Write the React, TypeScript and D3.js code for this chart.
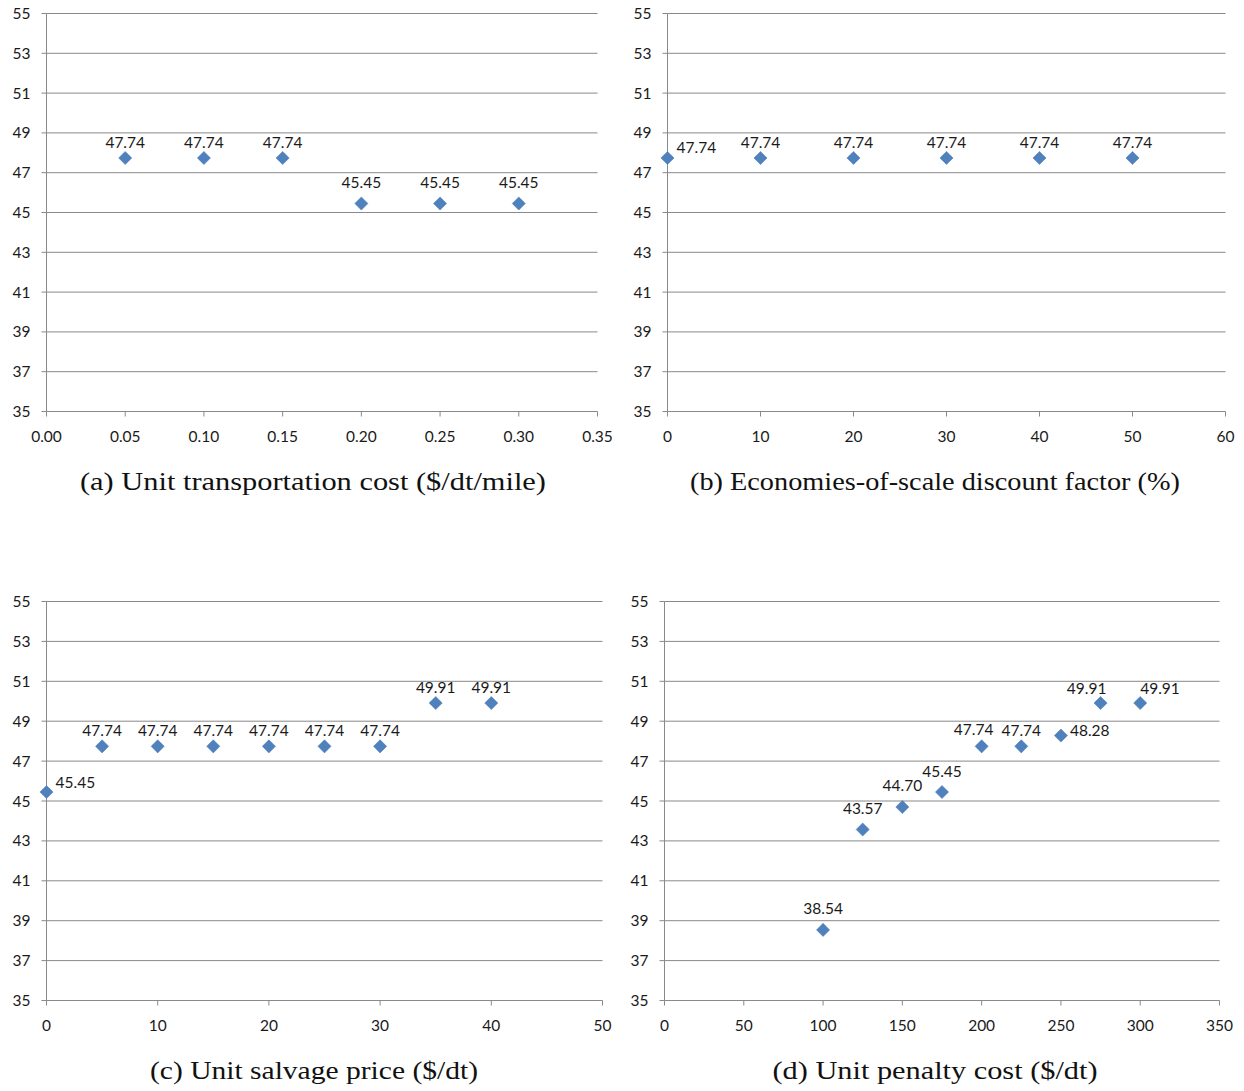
import React from 'react';
import * as d3 from 'd3';

// y axis is shared by all four panels
const yTicks = [35, 37, 39, 41, 43, 45, 47, 49, 51, 53, 55];

// (a) unit transportation cost
const aX = [0.05, 0.1, 0.15, 0.2, 0.25, 0.3];
const aY = [47.74, 47.74, 47.74, 45.45, 45.45, 45.45];
const aTicks = [0, 0.05, 0.1, 0.15, 0.2, 0.25, 0.3, 0.35];

// (b) economies-of-scale discount factor
const bX = [0, 10, 20, 30, 40, 50];
const bY = [47.74, 47.74, 47.74, 47.74, 47.74, 47.74];
const bTicks = [0, 10, 20, 30, 40, 50, 60];

// (c) unit salvage price
const cX = [0, 5, 10, 15, 20, 25, 30, 35, 40];
const cY = [45.45, 47.74, 47.74, 47.74, 47.74, 47.74, 47.74, 49.91, 49.91];
const cTicks = [0, 10, 20, 30, 40, 50];

// (d) unit penalty cost
const dX = [100, 125, 150, 175, 200, 225, 250, 275, 300];
const dY = [38.54, 43.57, 44.7, 45.45, 47.74, 47.74, 48.28, 49.91, 49.91];
const dTicks = [0, 50, 100, 150, 200, 250, 300, 350];

const gridColor = '#898989';
const markColor = '#4f81bd';
const tickFont = 'Lato, "Open Sans", sans-serif';
const capFont = '"Liberation Serif", "DejaVu Serif", serif';

// where the data label sits relative to the diamond
const place = {
  top: { dx: 0, dy: -10, anchor: 'middle' },
  high: { dx: 0, dy: -15.5, anchor: 'middle' },
  topL: { dx: -8, dy: -11, anchor: 'middle' },
  topL2: { dx: -14, dy: -9, anchor: 'middle' },
  right: { dx: 9, dy: -4.5, anchor: 'start' },
  side: { dx: 9, dy: 0, anchor: 'start' },
  corner: { dx: 0, dy: -9, anchor: 'start' }
};

const diamond = d3.symbol().type(d3.symbolSquare).size(86)();

function Panel(props) {
  const { x0, x1, y0, y1, xs, ys, ticks, fmt, labels, caption, capX, capY, capW } = props;
  const x = d3.scaleLinear().domain([ticks[0], ticks[ticks.length - 1]]).range([x0, x1]);
  const y = d3.scaleLinear().domain([35, 55]).range([y1, y0]);

  return (
    <g>
      {/* gridlines + y ticks */}
      {yTicks.map(t => (
        <g key={'y' + t}>
          <line x1={x0} x2={x1} y1={y(t)} y2={y(t)} stroke={gridColor} strokeWidth={1} />
          <line x1={x0 - 5} x2={x0} y1={y(t)} y2={y(t)} stroke={gridColor} strokeWidth={1} />
          <text x={x0 - 16} y={y(t) + 5.5} textAnchor="end" fontFamily={tickFont} fontSize={15.5} fill="#1a1a1a">{t}</text>
        </g>
      ))}
      {/* axes */}
      <line x1={x0} x2={x0} y1={y0} y2={y1} stroke={gridColor} strokeWidth={1} />
      {ticks.map(t => (
        <g key={'x' + t}>
          <line x1={x(t)} x2={x(t)} y1={y1} y2={y1 + 5} stroke={gridColor} strokeWidth={1} />
          <text x={x(t)} y={y1 + 30} textAnchor="middle" fontFamily={tickFont} fontSize={15.5} fill="#1a1a1a">{fmt(t)}</text>
        </g>
      ))}
      {/* points */}
      {xs.map((v, i) => {
        const cx = x(v);
        const cy = y(ys[i]);
        const p = place[labels[i]];
        return (
          <g key={'p' + i}>
            <path d={diamond} transform={`translate(${cx},${cy}) rotate(45)`} fill={markColor} stroke="#4a7ab5" strokeWidth={0.5} />
            <text x={cx + p.dx} y={cy + p.dy} textAnchor={p.anchor} fontFamily={tickFont} fontSize={15.5} fill="#1a1a1a">{ys[i].toFixed(2)}</text>
          </g>
        );
      })}
      <text x={capX} y={capY} textAnchor="middle" fontFamily={capFont} fontSize={25} fill="#111"
        textLength={capW} lengthAdjust="spacingAndGlyphs">{caption}</text>
    </g>
  );
}

export default function App() {
  const f2 = d3.format('.2f');
  const f0 = d3.format('d');
  return (
    <svg width={1244} height={1091} style={{ position: 'absolute', left: 0, top: 0, background: '#fff' }}>
      <Panel x0={46.5} x1={597.5} y0={13.5} y1={411.5} xs={aX} ys={aY} ticks={aTicks} fmt={f2}
        labels={['top', 'top', 'top', 'high', 'high', 'high']}
        caption="(a) Unit transportation cost ($/dt/mile)" capX={313} capY={490} capW={466} />
      <Panel x0={667.5} x1={1225.5} y0={13.5} y1={411.5} xs={bX} ys={bY} ticks={bTicks} fmt={f0}
        labels={['right', 'top', 'top', 'top', 'top', 'top']}
        caption="(b) Economies-of-scale discount factor (%)" capX={935} capY={490} capW={490} />
      <Panel x0={46.5} x1={602.5} y0={601.5} y1={1000.5} xs={cX} ys={cY} ticks={cTicks} fmt={f0}
        labels={['right', 'top', 'top', 'top', 'top', 'top', 'top', 'top', 'top']}
        caption="(c) Unit salvage price ($/dt)" capX={314} capY={1079} capW={328} />
      <Panel x0={664.5} x1={1219.5} y0={601.5} y1={1000.5} xs={dX} ys={dY} ticks={dTicks} fmt={f0}
        labels={['high', 'high', 'high', 'high', 'topL', 'top', 'side', 'topL2', 'corner']}
        caption="(d) Unit penalty cost ($/dt)" capX={935} capY={1079} capW={325} />
    </svg>
  );
}
